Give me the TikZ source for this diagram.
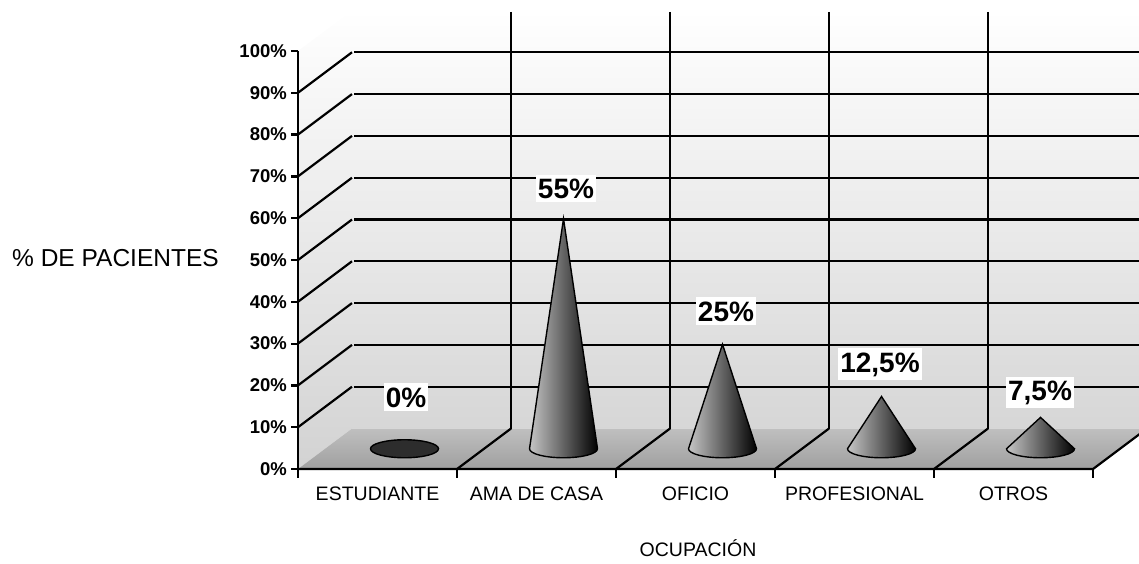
\documentclass[tikz,border=0pt]{standalone}
\usepackage{fontspec}
\setmainfont{Liberation Sans}
\begin{document}
\begin{tikzpicture}[x=1pt,y=-1pt,
  ylab/.style={anchor=east,inner sep=0pt,font=\fontsize{18.5}{20}\selectfont\bfseries},
  xlab/.style={anchor=base,inner sep=0pt,font=\fontsize{19.5}{22}\selectfont},
  dlab/.style={anchor=base,fill=white,inner xsep=2pt,inner ysep=4pt,font=\fontsize{28}{30}\selectfont\bfseries},
  gridline/.style={black,line width=2.2pt},
  cone/.style={draw=black,line width=1.4pt,left color=gray!45,right color=black}]
\useasboundingbox (0,0) rectangle (1139,564);
\clip (0,0) rectangle (1139,564);
%\draw[step=50,gray,very thin] (0,0) grid (1139,564);
\shade[top color=white,bottom color=gray!35] (298,469) -- (298,51) -- (352,10.5) -- (1139,10.5) -- (1139,428.5) -- (352,428.5) -- cycle;
\shade[top color=gray!50,bottom color=gray!75] (298,469) -- (1093,469) -- (1147,428.5) -- (352,428.5) -- cycle;
% back wall
\draw[gridline] (354,386.7) -- (1139,386.7);
\draw[gridline] (354,344.9) -- (1139,344.9);
\draw[gridline] (354,303.1) -- (1139,303.1);
\draw[gridline] (354,261.3) -- (1139,261.3);
\draw[gridline] (354,219.5) -- (1139,219.5);
\draw[gridline] (354,177.7) -- (1139,177.7);
\draw[gridline] (354,135.9) -- (1139,135.9);
\draw[gridline] (354,94.1) -- (1139,94.1);
\draw[gridline] (354,52.3) -- (1139,52.3);
\draw[gridline] (511,12) -- (511,428.5);
\draw[gridline] (670,12) -- (670,428.5);
\draw[gridline] (829,12) -- (829,428.5);
\draw[gridline] (988,12) -- (988,428.5);
% side wall
\draw[gridline] (298,427.2) -- (352,386.7);
\draw[gridline] (298,385.4) -- (352,344.9);
\draw[gridline] (298,343.6) -- (352,303.1);
\draw[gridline] (298,301.8) -- (352,261.3);
\draw[gridline] (298,260) -- (352,219.5);
\draw[gridline] (298,218.2) -- (352,177.7);
\draw[gridline] (298,176.4) -- (352,135.9);
\draw[gridline] (298,134.6) -- (352,94.1);
\draw[gridline] (298,92.8) -- (352,52.3);
% floor
\draw[gridline] (457,469) -- (511,428.5);
\draw[gridline] (616,469) -- (670,428.5);
\draw[gridline] (775,469) -- (829,428.5);
\draw[gridline] (934,469) -- (988,428.5);
\draw[gridline] (298,469) -- (1093,469) -- (1147,428.5);
% axes and ticks
\draw[gridline] (298,51) -- (298,478);
\draw[gridline] (291,469) -- (298,469);
\draw[gridline] (291,427.2) -- (298,427.2);
\draw[gridline] (291,385.4) -- (298,385.4);
\draw[gridline] (291,343.6) -- (298,343.6);
\draw[gridline] (291,301.8) -- (298,301.8);
\draw[gridline] (291,260) -- (298,260);
\draw[gridline] (291,218.2) -- (298,218.2);
\draw[gridline] (291,176.4) -- (298,176.4);
\draw[gridline] (291,134.6) -- (298,134.6);
\draw[gridline] (291,92.8) -- (298,92.8);
\draw[gridline] (291,51) -- (298,51);
\draw[gridline] (457,469) -- (457,478);
\draw[gridline] (616,469) -- (616,478);
\draw[gridline] (775,469) -- (775,478);
\draw[gridline] (934,469) -- (934,478);
\draw[gridline] (1093,469) -- (1093,478);
% cones
\draw[black,line width=1.4pt,fill=gray!35!black] (404.5,448.75) ellipse [x radius=34pt,y radius=9pt];
\draw[cone] (529.5,448.75) -- (563.5,218.8) -- (597.5,448.75) arc[start angle=0,end angle=-180,x radius=34pt,y radius=9pt] -- cycle;
\draw[cone] (688.5,448.75) -- (722.5,344.3) -- (756.5,448.75) arc[start angle=0,end angle=-180,x radius=34pt,y radius=9pt] -- cycle;
\draw[cone] (847.5,448.75) -- (881.5,396.5) -- (915.5,448.75) arc[start angle=0,end angle=-180,x radius=34pt,y radius=9pt] -- cycle;
\draw[cone] (1006.5,448.75) -- (1040.5,417.4) -- (1074.5,448.75) arc[start angle=0,end angle=-180,x radius=34pt,y radius=9pt] -- cycle;
% labels
\node[dlab] (d0) at (406,407) {0\%};
\node[dlab] (d55) at (566,198) {55\%};
\node[dlab] (d25) at (726,321) {25\%};
\node[dlab] (d125) at (880,372) {12,5\%};
\node[dlab] (d75) at (1040,400) {7,5\%};
\node[ylab] (y0) at (287,469) {0\%};
\node[ylab] (y10) at (287,427.2) {10\%};
\node[ylab] (y20) at (287,385.4) {20\%};
\node[ylab] (y30) at (287,343.6) {30\%};
\node[ylab] (y40) at (287,301.8) {40\%};
\node[ylab] (y50) at (287,260) {50\%};
\node[ylab] (y60) at (287,218.2) {60\%};
\node[ylab] (y70) at (287,176.4) {70\%};
\node[ylab] (y80) at (287,134.6) {80\%};
\node[ylab] (y90) at (287,92.8) {90\%};
\node[ylab] (y100) at (287,51) {100\%};
\node[xlab] (estud) at (377.5,500) {ESTUDIANTE};
\node[xlab] (ama) at (536.5,500) {AMA DE CASA};
\node[xlab] (oficio) at (695.5,500) {OFICIO};
\node[xlab] (prof) at (854.5,500) {PROFESIONAL};
\node[xlab] (otros) at (1013.5,500) {OTROS};
\node[anchor=base west,inner sep=0pt,font=\fontsize{24.5}{26}\selectfont] (ytitle) at (12,266) {\% DE PACIENTES};
\node[xlab] (xtitle) at (698,556) {OCUPACIÓN};
\end{tikzpicture}
\end{document}
